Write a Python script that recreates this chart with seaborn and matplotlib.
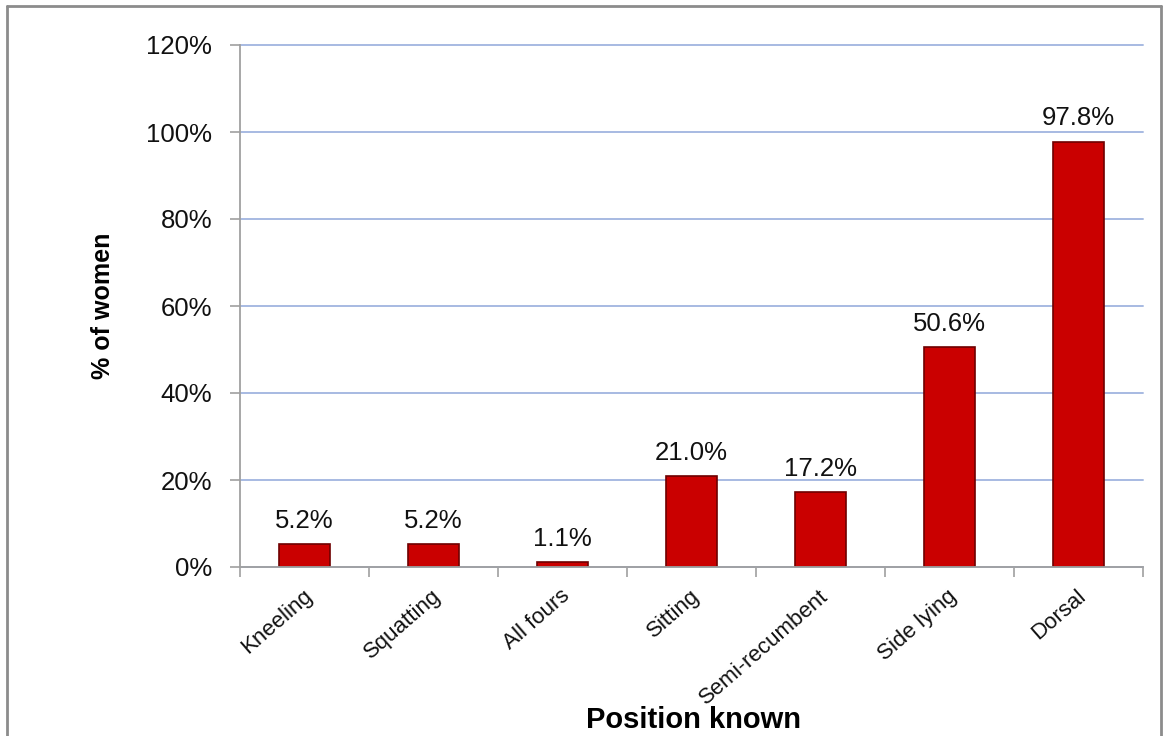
import matplotlib
matplotlib.use("Agg")
import matplotlib.pyplot as plt
import matplotlib.transforms as mtransforms
import seaborn as sns
import pandas as pd
from matplotlib.lines import Line2D

categories = ["Kneeling", "Squatting", "All fours", "Sitting", "Semi-recumbent", "Side lying", "Dorsal"]
values = [5.2, 5.2, 1.1, 21.0, 17.2, 50.6, 97.8]
yticks = [0, 20, 40, 60, 80, 100, 120]
ytick_labels = ["0%", "20%", "40%", "60%", "80%", "100%", "120%"]

sns.set_theme(style="white")
plt.rcParams['font.family'] = ['Liberation Sans', 'DejaVu Sans']

df = pd.DataFrame({"Position": categories, "Pct": values})

fig = plt.figure(figsize=(11.69, 7.36), dpi=100)
ax = fig.add_axes([240/1169, 1-567/736, (1143-240)/1169, (567-45)/736])

sns.barplot(data=df, x="Position", y="Pct", ax=ax, width=0.4,
            color="#CA0000", saturation=1, edgecolor="#6E0000", linewidth=1.2, zorder=3)

ax.set_ylim(0, 120)
ax.set_xlim(-0.5, len(categories) - 0.5)
ax.set_yticks(yticks)
ax.set_yticklabels(ytick_labels, fontsize=18.5, color="#111111")
ax.yaxis.grid(True, color="#A7BAE2", linewidth=1.4, zorder=0)
for gl in ax.get_ygridlines():
    gl.set_clip_on(False)
ax.set_axisbelow(True)

for s in ["top", "right"]:
    ax.spines[s].set_visible(False)
ax.spines["left"].set_color("#A0A0A0")
ax.spines["bottom"].set_color("#A0A0A0")
ax.spines["left"].set_linewidth(1.3)
ax.spines["bottom"].set_linewidth(1.3)
ax.spines["left"].set_zorder(4)
ax.spines["bottom"].set_zorder(4)

ax.tick_params(axis="y", which="major", left=True, length=7, width=1.2, color="#A0A0A0", pad=13)
ax.set_xticks(range(len(categories)))
ax.set_xticklabels(categories, rotation=41, ha="right", va="center",
                   rotation_mode="anchor", fontsize=16, color="#111111")
ax.tick_params(axis="x", which="major", bottom=False, length=0, pad=19)
offset = mtransforms.ScaledTranslation(5/100, 0, fig.dpi_scale_trans)
for lab in ax.get_xticklabels():
    lab.set_transform(lab.get_transform() + offset)
ax.set_xticks([i - 0.5 for i in range(len(categories) + 1)], minor=True)
ax.tick_params(axis="x", which="minor", bottom=True, length=7, width=1.2, color="#A0A0A0")

for i, v in enumerate(values):
    ax.annotate(f"{v:.1f}%", (i, v), xytext=(0, 8), textcoords="offset points",
                ha="center", va="bottom", fontsize=18.5, color="#111111")

ax.set_ylabel("% of women", fontsize=18, fontweight="bold", color="#000000")
ax.set_xlabel("Position known", fontsize=21, fontweight="bold", color="#000000")
ax.xaxis.set_label_coords((694-240)/(1143-240), -(728-567)/(567-45))
ax.xaxis.label.set_va("baseline")
ax.yaxis.set_label_coords(-(240-103)/(1143-240), 0.5)
ax.yaxis.label.set_va("center")

# figure border (left, top, right)
x0, x1 = 7/1169, 1161/1169
y1 = 1 - 6/736
for xs, ys in [([x0, x0], [0, y1]), ([x0, x1], [y1, y1]), ([x1, x1], [y1, 0])]:
    fig.add_artist(Line2D(xs, ys, transform=fig.transFigure, color="#8C8C8C", linewidth=2))

fig.savefig("out.png", dpi=100)
